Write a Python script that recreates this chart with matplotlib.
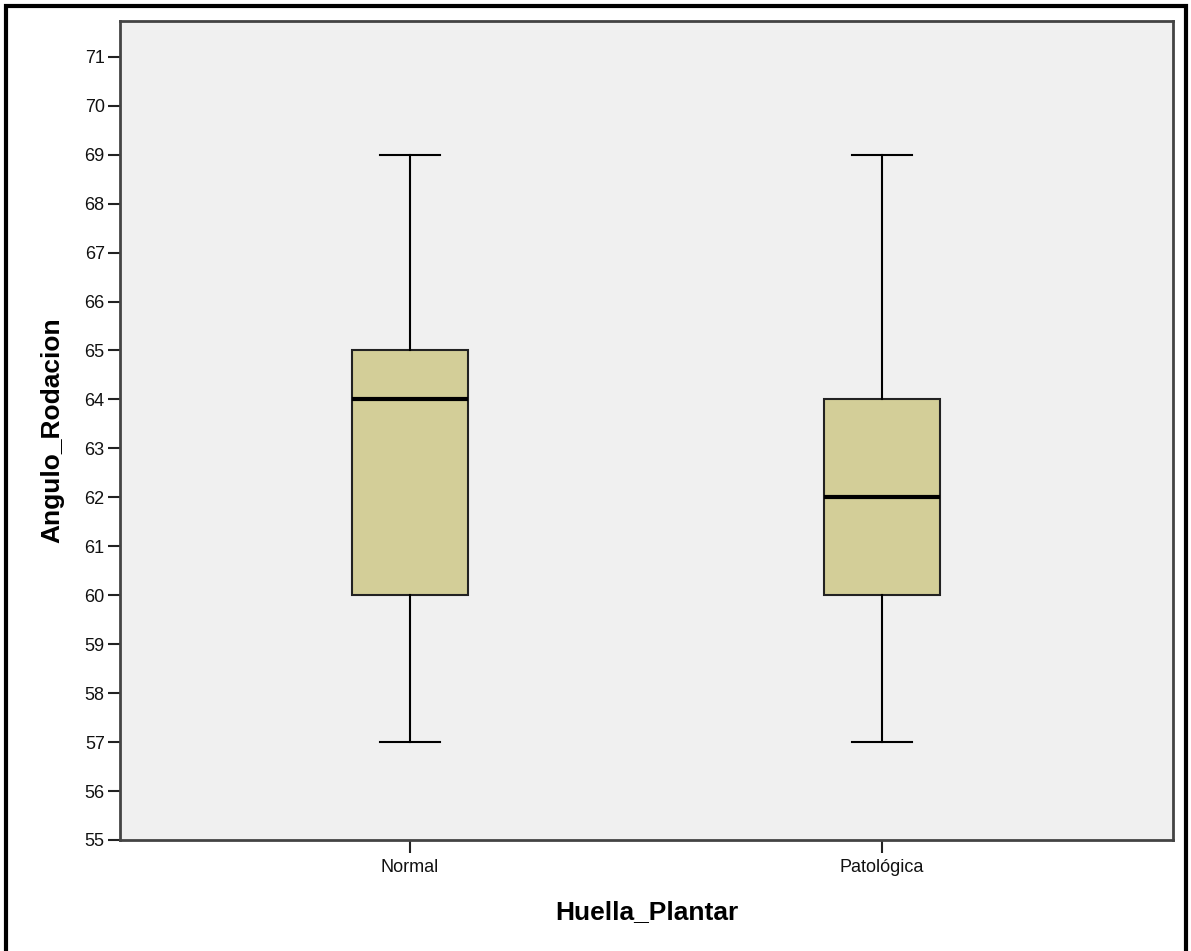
import matplotlib
matplotlib.use("Agg")
import matplotlib.pyplot as plt
from matplotlib.patches import Rectangle

plt.rcParams['font.family'] = ['Liberation Sans', 'DejaVu Sans']

groups = ["Normal", "Patológica"]
whisker_low = [57, 57]
q1 = [60, 60]
medians = [64, 62]
q3 = [65, 64]
whisker_high = [69, 69]
yticks = list(range(55, 72))

stats = []
for i, g in enumerate(groups):
    stats.append({"label": g, "whislo": whisker_low[i], "q1": q1[i], "med": medians[i],
                  "q3": q3[i], "whishi": whisker_high[i], "fliers": []})

W, H = 1191, 951
fig = plt.figure(figsize=(W / 100, H / 100), dpi=100)
ax = fig.add_axes([120 / W, 1 - 840 / H, 1053 / W, 819 / H])
ax.set_facecolor("#F0F0F0")

ax.bxp(stats, positions=[1, 2], widths=0.246, capwidths=0.127, patch_artist=True,
       showfliers=False,
       boxprops=dict(facecolor="#D3CE98", edgecolor="#222222", linewidth=1.5),
       medianprops=dict(color="black", linewidth=3),
       whiskerprops=dict(color="black", linewidth=1.5),
       capprops=dict(color="black", linewidth=1.5))

ax.set_xlim(0.386, 2.617)
ax.set_ylim(55, 71.73)
ax.set_yticks(yticks)
ax.set_xticks([1, 2])
ax.set_xticklabels(groups)
ax.tick_params(axis="y", length=9, width=1.5, color="#222222", labelsize=13, pad=2,
               labelcolor="#111111")
ax.tick_params(axis="x", length=9, width=1.5, color="#222222", labelsize=13, pad=5,
               labelcolor="#111111")
for s in ax.spines.values():
    s.set_color("#444444")
    s.set_linewidth(2)

ax.set_ylabel("Angulo_Rodacion", fontsize=19, fontweight="bold", va="center")
ax.set_xlabel("Huella_Plantar", fontsize=19, fontweight="bold", va="center")
ax.yaxis.set_label_coords(-0.0646, 0.5)
ax.xaxis.set_label_coords(0.5, -0.0879)

fig.patches.append(Rectangle((6 / W, -0.05), (1186 - 6) / W, 1.05 - 6 / H,
                             transform=fig.transFigure, fill=False,
                             edgecolor="black", linewidth=3))

fig.savefig("out.png", dpi=100)
